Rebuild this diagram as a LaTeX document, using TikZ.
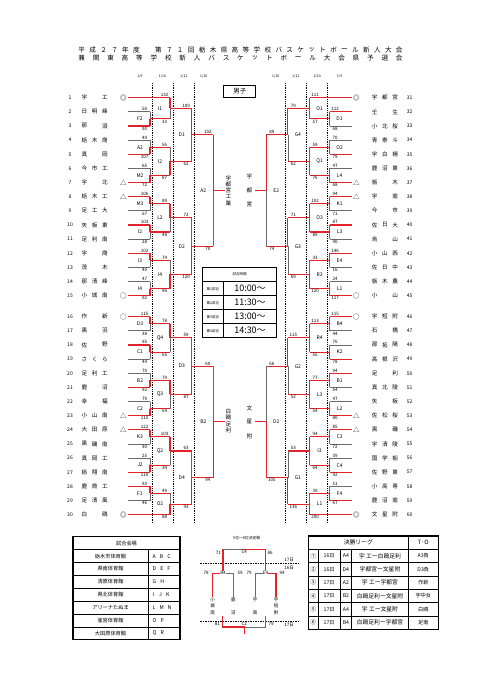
\documentclass[tikz,border=0pt]{standalone}
\usepackage{fontspec}
\setmainfont{Noto Sans CJK JP}
\usetikzlibrary{calc}
\definecolor{wr}{HTML}{E2232A}
\definecolor{lg}{HTML}{6A6A6A}
\tikzset{
  lnr/.style={draw=wr,line width=1.1pt},
  lng/.style={draw=lg,line width=0.8pt},
  sc/.style={font=\fontsize{4.5}{5}\selectfont,inner sep=0.3pt},
  lb/.style={font=\fontsize{5}{6}\selectfont,inner sep=0pt},
  nm/.style={font=\fontsize{5.6}{6}\selectfont,inner sep=0pt},
  num/.style={font=\fontsize{5}{6}\selectfont,inner sep=0pt},
  mk/.style={font=\fontsize{6.5}{7}\selectfont,inner sep=0pt},
  dotln/.style={line width=1pt,dash pattern=on 0.9pt off 0.9pt},
  dt/.style={font=\fontsize{3.5}{4}\selectfont,inner sep=0pt},
  ttl/.style={font=\fontsize{6.6}{7}\selectfont,inner sep=0pt},
  vt/.style={font=\fontsize{5.6}{6}\selectfont,inner sep=0pt},
  tb/.style={line width=0.45pt},
  tbo/.style={line width=1.1pt},
  tt5/.style={font=\fontsize{5.2}{6}\selectfont,inner sep=0pt},
  tt6/.style={font=\fontsize{5.8}{6}\selectfont,inner sep=0pt},
  tsm/.style={font=\fontsize{3.5}{4}\selectfont,inner sep=0pt},
  ttm/.style={font=\fontsize{9}{10}\selectfont,inner sep=0pt},
  md/.style={font=\fontsize{4.5}{5}\selectfont,inner sep=0.4pt},
  dsh/.style={line width=0.5pt,dash pattern=on 1.5pt off 1pt},
}
\def\mtc#1#2#3{\if r#3\def#1{wr}\def#2{1.1}\else\def#1{lg}\def#2{0.8}\fi}
\def\mtspec#1#2#3\relax{\mtc\tcol\tlw#1\mtc\bcol\blw#2\def\wside{#3}}
\newcommand\mt[8]{%
  \mtspec#5\relax
  \path let \p1=(#2), \p2=(#3) in
    coordinate (#1) at (#4pt,{0.5*\y1+0.5*\y2})
    coordinate (#1t) at (#4pt,\y1)
    coordinate (#1b) at (#4pt,\y2);
  \draw[draw=\tcol,line width=\tlw pt] (#2) -- (#1t);
  \draw[draw=\bcol,line width=\blw pt] (#3) -- (#1b);
  \if t\wside
    \draw[lnr] (#1t) -- (#1); \draw[lng] (#1) -- (#1b);
  \else
    \draw[lng] (#1t) -- (#1); \draw[lnr] (#1) -- (#1b);
  \fi
  \node[sc,anchor=south] (#1st) at ([xshift=\sdx pt,yshift=0.5pt]#1t) {#6};
  \node[sc,anchor=north] (#1sb) at ([xshift=\sdx pt,yshift=-0.5pt]#1b) {#7};
  \node[lb] (#1lb) at ([xshift=\ldx pt]#1) {#8};
}
\begin{document}
\begin{tikzpicture}[x=1pt,y=-1pt]
\useasboundingbox (0,0) rectangle (481,680);
\fill[white] (0,0) rectangle (481,680);

% title
\foreach \c [count=\k from 0] in {平,成,２,７,年,度}
  \node[ttl] (ta\k) at ({81.7+10.95*\k},50) {\c};
\foreach \c [count=\k from 7] in {第,７,１,回,栃,木,県,高,等,学,校,バ,ス,ケ,ッ,ト,ボ,ー,ル,新,人,大,会}
  \node[ttl] (tb\k) at ({81.7+10.95*\k},50) {\c};
\foreach \c [count=\k from 0] in {兼,関,東,高,等,学,校,新,人,バ,ス,ケ,ッ,ト,ボ,ー,ル,大,会,県,予,選,会}
  \node[ttl] (tc\k) at ({81.7+14.436*\k},58) {\c};

% dates
\node[dt] (d1) at (140,76) {1/9};
\node[dt] (d2) at (162.5,76) {1/10};
\node[dt] (d3) at (183.8,76) {1/11};
\node[dt] (d4) at (203.8,76) {1/16};
\node[dt] (d5) at (275.8,76) {1/16};
\node[dt] (d6) at (295.8,76) {1/11};
\node[dt] (d7) at (317.1,76) {1/10};
\node[dt] (d8) at (339.6,76) {1/9};

% dotted day separators
\foreach \x in {152.3,173.3,194.3,285.3,306.3,327.3}
  \draw[dotln] (\x,83) -- (\x,523);

% left teams
\foreach \i/\a/\b/\c/\m in {1/宇//工/◎,2/日/明/峰/,3/那//須/,4/栃/木/商/,5/真//岡/,6/今/市/工/,7/宇//北/△,8/栃/木/工/△,9/足/工/大/,10/矢/板/東/,11/足/利/南/,12/宇//商/,13/茂//木/,14/那/清/峰/,15/小/城/南/○,16/作//新/○,17/黒//羽/,18/佐//野/,19/さ/く/ら/,20/足/利/工/,21/鹿//沼/,22/幸//福/,23/小/山/南/△,24/大/田/原/△,25/黒/磯/南/,26/真/岡/工/,27/栃/翔/南/,28/鹿/商/工/,29/足/清/風/,30/白//鴎/◎}{
  \pgfmathsetmacro\yy{\i<16 ? 97.7+(\i-1)*14.14 : 316.7+(\i-16)*14.14}
  \node[num] (nl\i) at (70,\yy) {\i};
  \node[nm] (al\i) at (84.5,\yy) {\a};
  \node[nm] (bl\i) at (94.7,\yy) {\b};
  \node[nm] (cl\i) at (105,\yy) {\c};
  \node[mk] (ml\i) at (123.3,\yy) {\m};
  \coordinate (L\i) at (128,\yy);
}
% right teams
\foreach \i/\a/\b/\c/\m in {31/宇/都/宮/◎,32/壬//生/,33/小/北/桜/,34/青/泰/斗/,35/宇/白/楊/,36/鹿/沼/東/,37/栃//木/△,38/宇//南/△,39/今//市/,40/佐/日/大/,41/烏//山/,42/小/山/西/,43/佐/日/中/,44/栃/木/農/,45/小//山/○,46/宇/短/附/○,47/石//橋/,48/那/拓/陽/,49/高/根/沢/,50/足//利/,51/真/北/陵/,52/矢//板/,53/佐/松/桜/△,54/黒//磯/△,55/宇/清/陵/,56/国/学/栃/,57/佐/野/東/,58/小/高/専/,59/鹿/沼/南/,60/文/星/附/◎}{
  \pgfmathsetmacro\yy{\i<46 ? 97.7+(\i-31)*14.14 : 316.7+(\i-46)*14.14}
  \node[num] (nr\i) at (409.6,\yy) {\i};
  \node[nm] (ar\i) at (374.6,\yy) {\a};
  \node[nm] (br\i) at (384.9,\yy) {\b};
  \node[nm] (cr\i) at (395.1,\yy) {\c};
  \node[mk] (mr\i) at (356.3,\yy) {\m};
  \coordinate (R\i) at (351.6,\yy);
}

% left bracket
\def\sdx{-5.5}\def\ldx{-10}
\mt{mF2}{L2}{L3}{150}{grb}{56}{90}{F2}
\mt{mA2}{L4}{L5}{150}{grb}{49}{107}{A2}
\mt{mM2}{L6}{L7}{150}{grb}{65}{72}{M2}
\mt{mM3}{L8}{L9}{150}{rgt}{106}{57}{M3}
\mt{mI2a}{L10}{L11}{150}{rgt}{103}{28}{I2}
\mt{mI3}{L12}{L13}{150}{rgt}{102}{40}{I3}
\mt{mI4a}{L14}{L15}{150}{grb}{47}{92}{I4}
\mt{mD3a}{L16}{L17}{150}{rgt}{115}{38}{D3}
\mt{mC1}{L18}{L19}{150}{rgt}{95}{44}{C1}
\mt{mB2a}{L20}{L21}{150}{grb}{70}{92}{B2}
\mt{mC2}{L22}{L23}{150}{grb}{79}{115}{C2}
\mt{mK3}{L24}{L25}{150}{rgt}{122}{30}{K3}
\mt{mJ2}{L26}{L27}{150}{grb}{25}{110}{J2}
\mt{mF1}{L28}{L29}{150}{rgt}{93}{46}{F1}
\mt{mI1}{L1}{mF2}{170}{rrt}{132}{33}{I1}
\mt{mI2b}{mA2}{mM2}{170}{rrb}{56}{87}{I2}
\mt{mL2}{mM3}{mI2a}{170}{rrt}{89}{48}{L2}
\mt{mI4b}{mI3}{mI4a}{170}{rrb}{74}{96}{I4}
\mt{mQ4}{mD3a}{mC1}{170}{rrt}{78}{65}{Q4}
\mt{mQ3}{mB2a}{mC2}{170}{rrt}{79}{64}{Q3}
\mt{mQ2}{mK3}{mJ2}{170}{rrt}{103}{34}{Q2}
\mt{mO2}{mF1}{L30}{170}{rrb}{49}{88}{O2}
\mt{mD1}{mI1}{mI2b}{191.7}{rrt}{109}{62}{D1}
\mt{mD2}{mL2}{mI4b}{191.7}{rrb}{72}{120}{D2}
\mt{mD3b}{mQ4}{mQ3}{191.7}{rrb}{59}{87}{D3}
\mt{mD4}{mQ2}{mO2}{191.7}{rrb}{63}{93}{D4}
\mt{mA2b}{mD1}{mD2}{213.3}{rrt}{102}{70}{A2}
\mt{mB2b}{mD3b}{mD4}{213.3}{rrb}{60}{94}{B2}
\draw[lnr] (mA2b) -- ++(11.7,0) coordinate (wL1);
\draw[lnr] (mB2b) -- ++(11.7,0) coordinate (wL2);
\foreach \c [count=\k] in {宇,都,宮,工,業}
  \node[vt] (wa\k) at (228.5,{190.5+(\k-3)*6.3}) {\c};
\foreach \c [count=\k] in {白,鴎,足,利}
  \node[vt] (wb\k) at (228.5,{421+(\k-2.5)*6.3}) {\c};

% right bracket
\def\sdx{5.5}\def\ldx{10}
\mt{nO1a}{R32}{R33}{329.6}{rgt}{112}{68}{D1}
\mt{nO2}{R34}{R35}{329.6}{grb}{70}{79}{O2}
\mt{nL4}{R36}{R37}{329.6}{grb}{47}{68}{L4}
\mt{nK1}{R38}{R39}{329.6}{rgt}{94}{71}{K1}
\mt{nL3a}{R40}{R41}{329.6}{rgt}{87}{40}{L3}
\mt{nE4}{R42}{R43}{329.6}{rgt}{146}{16}{E4}
\mt{nL1a}{R44}{R45}{329.6}{grb}{24}{117}{L1}
\mt{nB4}{R46}{R47}{329.6}{rgt}{115}{44}{B4}
\mt{nK2}{R48}{R49}{329.6}{grb}{76}{78}{K2}
\mt{nB1}{R50}{R51}{329.6}{rgt}{94}{64}{B1}
\mt{nL2}{R52}{R53}{329.6}{grb}{47}{80}{L2}
\mt{nC3}{R54}{R55}{329.6}{rgt}{85}{72}{C3}
\mt{nC4}{R56}{R57}{329.6}{grb}{39}{92}{C4}
\mt{nF4}{R58}{R59}{329.6}{grb}{51}{67}{F4}
\mt{nO1b}{R31}{nO1a}{309.6}{rrt}{111}{57}{O1}
\mt{nQ1}{nO2}{nL4}{309.6}{rrb}{59}{76}{Q1}
\mt{nO3}{nK1}{nL3a}{309.6}{rrt}{102}{89}{O3}
\mt{nR3}{nE4}{nL1a}{309.6}{rrb}{33}{120}{R3}
\mt{nR4}{nB4}{nK2}{309.6}{rrt}{113}{55}{R4}
\mt{nL3b}{nB1}{nL2}{309.6}{rrt}{77}{54}{L3}
\mt{nI3}{nC3}{nC4}{309.6}{rrt}{94}{64}{I3}
\mt{nL1b}{nF4}{R60}{309.6}{rrb}{39}{200}{L1}
\mt{nG4}{nO1b}{nQ1}{287.9}{rrt}{79}{62}{G4}
\mt{nG3}{nO3}{nR3}{287.9}{rrt}{71}{69}{G3}
\mt{nG2}{nR4}{nL3b}{287.9}{rrt}{115}{52}{G2}
\mt{nG1}{nI3}{nL1b}{287.9}{rrb}{53}{136}{G1}
\mt{nE2}{nG4}{nG3}{266.3}{rrt}{89}{74}{E2}
\mt{nD2}{nG2}{nG1}{266.3}{rrb}{66}{105}{D2}
\draw[lnr] (nE2) -- ++(-11.3,0) coordinate (wR1);
\draw[lnr] (nD2) -- ++(-11.3,0) coordinate (wR2);
\foreach \c [count=\k] in {宇,都,宮}
  \node[vt] (wc\k) at (249.3,{190.5+(\k-2)*14}) {\c};
\foreach \c [count=\k] in {文,星,附}
  \node[vt] (wd\k) at (249.3,{421.9+(\k-2)*14}) {\c};

% centre boxes
\node[draw,line width=0.8pt,minimum width=32pt,minimum height=12pt,inner sep=0pt,font=\fontsize{6.5}{7}\selectfont] (dan) at (239.8,91) {男子};
\draw[tbo] (202.3,267.3) rectangle (276.7,337.7);
\foreach \yy in {281.7,295.7,309.7,323.7} \draw[tb] (202.3,\yy) -- (276.7,\yy);
\draw[tb] (223.3,281.7) -- (223.3,337.7);
\node[tsm] (tjh) at (239.5,274.5) {試合時間};
\foreach \n/\t [count=\k] in {1/10:00～,2/11:30～,3/13:00～,4/14:30～}{
  \node[tsm] (tjn\k) at (212.8,{274.7+14*\k}) {第\n 試合};
  \node[ttm] (tjt\k) at (250,{274.7+14*\k}) {\t};
}

% venue table
\draw[tbo] (73,536.7) rectangle (180,639.9);
\foreach \k in {1,...,7} \draw[tb] (73,{536.7+12.9*\k}) -- (180,{536.7+12.9*\k});
\draw[tb] (148,549.6) -- (148,639.9);
\node[tt5] (vh) at (126.5,543.2) {試合会場};
\foreach \v/\c [count=\k] in {栃木市体育館/A\hspace{4pt}B\hspace{4pt}C,県南体育館/D\hspace{4pt}E\hspace{4pt}F,清原体育館/G\hspace{4pt}H,県北体育館/I\hspace{5pt}J\hspace{4pt}K,アリーナたぬま/L\hspace{4pt}M\hspace{4pt}N,雀宮体育館/O\hspace{4pt}P,大田原体育館/Q\hspace{4pt}R}{
  \node[tt5] (vn\k) at (110.5,{543.2+12.9*\k}) {\v};
  \node[tt5,anchor=west] (vc\k) at (152.5,{543.2+12.9*\k}) {\c};
}

% 5-8 place diagram
\node[md,font=\fontsize{3.8}{4}\selectfont] (pt) at (246.7,538.3) {5位～8位決定戦};
\coordinate (b4l) at (212.7,573.3); \coordinate (b4r) at (233.3,573.3); \coordinate (b4m) at (223,573.3);
\coordinate (e4l) at (255,573.3); \coordinate (e4r) at (276,573.3); \coordinate (e4m) at (265.5,573.3);
\coordinate (c4l) at (223,549.3); \coordinate (c4r) at (265.5,549.3); \coordinate (c4m) at (244.25,549.3);
\draw[dsh] (200,563.6) coordinate (da1) -- (300,563.6) coordinate (da2);
\draw[dsh] (200,621.7) coordinate (db1) -- (300,621.7) coordinate (db2);
\draw[lnr] (b4l) -- (b4m); \draw[lng] (b4m) -- (b4r);
\draw[lng] (e4l) -- (e4m); \draw[lnr] (e4m) -- (e4r);
\draw[lnr] (b4m) -- (c4l); \draw[lnr] (e4m) -- (c4r);
\draw[lng] (c4l) -- (c4m); \draw[lnr] (c4m) -- (c4r);
\draw[lnr] (b4l) -- ++(0,23.4) coordinate (s1);
\draw[lng] (b4r) -- ++(0,23.4) coordinate (s2);
\draw[lng] (e4l) -- ++(0,23.4) coordinate (s3);
\draw[lnr] (e4r) -- ++(0,23.4) coordinate (s4);
\node[md,fill=white] (lb4) at (b4m) {B4};
\node[md,fill=white] (le4) at (e4m) {E4};
\node[md,anchor=north] (lc4) at ([yshift=-0.6pt]c4m) {C4};
\node[md] (p71) at (218.3,553.2) {71};
\node[md] (p86) at (270.2,553.2) {86};
\node[md] (p78) at (206,573.3) {78};
\node[md] (p59) at (240,573.3) {59};
\node[md] (p79) at (249,573.3) {79};
\node[md] (p94) at (282,573.3) {94};
\node[md] (p17a) at (289,560.3) {17日};
\node[md] (p16) at (289,567.6) {16日};
\node[md] (p17b) at (289,625.3) {17日};
\foreach \c [count=\k] in {小,城,南} \node[md] (qa\k) at (212.7,{599.5+(\k-1)*6.6}) {\c};
\foreach \c [count=\k] in {鹿,沼} \node[md] (qb\k) at (233.3,{599.5+(\k-1)*13.2}) {\c};
\foreach \c [count=\k] in {宇,南} \node[md] (qc\k) at (255,{599.5+(\k-1)*13.2}) {\c};
\foreach \c [count=\k] in {宇,短,附} \node[md] (qd\k) at (276,{599.5+(\k-1)*6.6}) {\c};
\coordinate (c2l) at (222.7,616); \coordinate (c2r) at (265.7,616);
\coordinate (c2bl) at (222.7,627); \coordinate (c2br) at (265.7,627);
\coordinate (c2m) at (244.2,627);
\draw[lng] (c2r) -- (c2br) -- (c2m);
\draw[lnr] (c2l) -- (c2bl) -- (c2m) -- ++(0,7) coordinate (c2o);
\node[md,anchor=south] (lc2) at ([yshift=0.6pt]c2m) {C2};
\node[md] (p81) at (217.3,624.3) {81};
\node[md] (p79b) at (271.2,624.3) {79};

% final league table
\draw[tbo] (308.3,536) rectangle (438.3,629.3);
\foreach \k in {0,...,5} \draw[tb] (308.3,{549.3+13.33*\k}) -- (438.3,{549.3+13.33*\k});
\draw[tb] (408.3,536) -- (408.3,629.3);
\foreach \x in {318.3,340,351.7} \draw[tb] (\x,549.3) -- (\x,629.3);
\node[tt6] (fh) at (358.3,542.7) {決勝リーグ};
\node[tt6] (fto) at (423.3,542.7) {T･O};
\foreach \a/\d/\g/\m/\o [count=\k] in {①/16日/A4/宇 工ー白鴎足利/A3負,②/16日/D4/宇都宮ー文星附/D3負,③/17日/A2/宇 工ー宇都宮/作新,④/17日/B2/白鴎足利ー文星附/宇中女,⑤/17日/A4/宇 工ー文星附/白鴎,⑥/17日/B4/白鴎足利ー宇都宮/足南}{
  \pgfmathsetmacro\yy{549.3+13.33*\k-6.67}
  \node[tt6] (fa\k) at (313.3,\yy) {\a};
  \node[tt5] (fd\k) at (329.2,\yy) {\d};
  \node[tt5] (fg\k) at (345.9,\yy) {\g};
  \node[tt6] (fm\k) at (380,\yy) {\m};
  \node[tt5] (fo\k) at (423.3,\yy) {\o};
}
\end{tikzpicture}
\end{document}
